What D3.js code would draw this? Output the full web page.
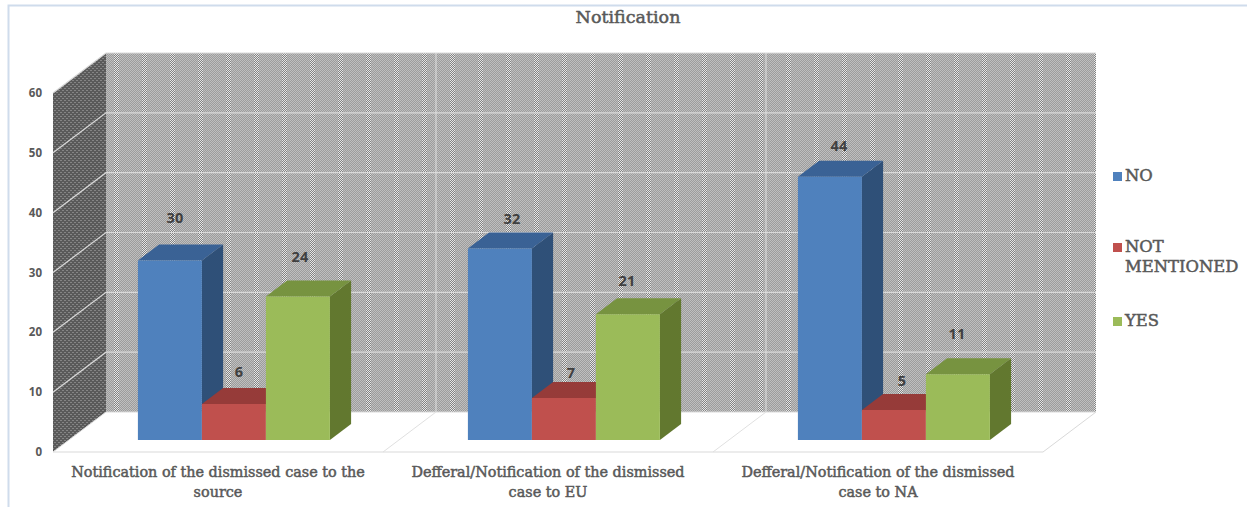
<!DOCTYPE html>
<html>
<head>
<meta charset="utf-8">
<script src="https://cdn.jsdelivr.net/npm/d3@7"></script>
<style>
  html, body { margin: 0; padding: 0; background: #fff; }
  svg { display: block; }
</style>
</head>
<body>
<svg id="chart" width="1247" height="507"></svg>
<script>
// Chart data
const categories = [
  "Notification of the dismissed case to the source",
  "Defferal/Notification of the dismissed case to EU",
  "Defferal/Notification of the dismissed case to NA"
];
const categoryLines = [
  ["Notification of the dismissed case to the", "source"],
  ["Defferal/Notification of the dismissed", "case to EU"],
  ["Defferal/Notification of the dismissed", "case to NA"]
];
const seriesNames = ["NO", "NOT MENTIONED", "YES"];
const noValues = [30, 32, 44];
const notMentionedValues = [6, 7, 5];
const yesValues = [24, 21, 11];
const yTicks = [0, 10, 20, 30, 40, 50, 60];

// Hand placement of the value labels relative to each bar's front top edge
const labelNudgeX = [[5, 5, 2], [12, 7, -1], [9, 8, -1]];
const labelNudgeY = [[-38, -27, -34], [-25, -20, -28], [-26, -24, -35]];

const seriesValues = [noValues, notMentionedValues, yesValues];
const frontColors = ["#4f81bd", "#c0504d", "#9bbb59"];
const sideColors  = ["#2f5078", "#7a3230", "#62782f"];
const topColors   = ["#3a6295", "#963b39", "#779340"];

const svg = d3.select("#chart");
const serif = "'DejaVu Serif', serif";
const sans = "'Open Sans', sans-serif";

// Oblique projection: depth 0 is the front of the floor, depth 1 the back wall
const depthX = 53, depthY = -40;
const y = d3.scaleLinear().domain([0, 60]).range([452, 93]);
const x0 = d3.scaleBand().domain(categories).range([53, 1043]);
const x1 = d3.scaleBand().domain(seriesNames).range([69, 261]);
const project = (xf, v, z) => [xf + depthX * z, y(v) + depthY * z];
const poly = pts => pts.map(p => p.join(",")).join(" ");

// Halftone fills for the two walls
const defs = svg.append("defs");
const wall = defs.append("pattern").attr("id", "wallFill")
  .attr("patternUnits", "userSpaceOnUse").attr("width", 28).attr("height", 2)
  .attr("x", 2);
wall.append("rect").attr("width", 28).attr("height", 2).attr("fill", "#aeaeae");
d3.range(0, 28).forEach(i => {
  const band = i < 5;
  [0, 1].forEach(row => {
    wall.append("rect").attr("x", i).attr("y", row).attr("width", 1).attr("height", 1)
      .attr("fill", (i + row) % 2 === 0
        ? (band ? "#e6e6e6" : "#bfbfbf")
        : (band ? "#828282" : "#9c9c9c"));
  });
});
const side = defs.append("pattern").attr("id", "sideFill")
  .attr("patternUnits", "userSpaceOnUse").attr("width", 4).attr("height", 4);
side.append("rect").attr("width", 4).attr("height", 4).attr("fill", "#5a5a5a");
side.append("rect").attr("x", 0).attr("y", 0).attr("width", 2).attr("height", 1).attr("fill", "#858585");
side.append("rect").attr("x", 2).attr("y", 2).attr("width", 2).attr("height", 1).attr("fill", "#858585");

// Outer frame, open to the right and below
svg.append("path")
  .attr("d", "M8.5,507V5.5H1247")
  .attr("fill", "none").attr("stroke", "#cfdcec").attr("stroke-width", 2);

// Shared look of the serif captions
const serifText = sel => sel
  .attr("font-family", serif).attr("font-weight", 400)
  .attr("fill", "#595959").attr("stroke", "#595959").attr("stroke-width", 0.5);

// Title
svg.append("text").attr("x", 628).attr("y", 23).attr("text-anchor", "middle")
  .attr("font-size", 17.5).call(serifText).text("Notification");

// Walls and floor
const [xL, xR] = x0.range();
svg.append("polygon").attr("fill", "url(#wallFill)")
  .attr("points", poly([project(xL, 60, 1), project(xR, 60, 1), project(xR, 0, 1), project(xL, 0, 1)]));
svg.append("polygon").attr("fill", "url(#sideFill)")
  .attr("points", poly([project(xL, 60, 0), project(xL, 60, 1), project(xL, 0, 1), project(xL, 0, 0)]));
svg.append("polygon").attr("fill", "#fff").attr("stroke", "#d9d9d9")
  .attr("points", poly([project(xL, 0, 0), project(xL, 0, 1), project(xR, 0, 1), project(xR, 0, 0)]));

// Gridlines across both walls
yTicks.filter(t => t > 0).forEach(t => {
  svg.append("polyline").attr("fill", "none").attr("stroke", "#d9d9d9").attr("stroke-width", 1.2)
    .attr("points", poly([project(xL, t, 0), project(xL, t, 1), project(xR, t, 1)]));
});

// Category separators on wall and floor
categories.slice(1).forEach(c => {
  const xc = x0(c);
  svg.append("polyline").attr("fill", "none").attr("stroke", "#e0e0e0").attr("stroke-width", 1)
    .attr("points", poly([project(xc, 0, 0), project(xc, 0, 1), project(xc, 60, 1)]));
});

// Value axis labels
svg.selectAll(".ytick").data(yTicks).join("text").attr("class", "ytick")
  .attr("x", 42).attr("y", d => y(d) + 4).attr("text-anchor", "end")
  .attr("font-family", sans).attr("font-size", 11.5).attr("font-weight", 700)
  .attr("fill", "#595959").text(d => d);

// Bars
const barDepth = [0.3, 0.7];
categories.forEach((c, ci) => {
  seriesNames.forEach((s, si) => {
    const v = seriesValues[si][ci];
    const a = x0(c) + x1(s), b = a + x1.bandwidth();
    const g = svg.append("g").attr("class", "bar");
    g.append("polygon").attr("fill", sideColors[si]).attr("points", poly([
      project(b, 0, barDepth[0]), project(b, 0, barDepth[1]),
      project(b, v, barDepth[1]), project(b, v, barDepth[0])]));
    g.append("polygon").attr("fill", topColors[si]).attr("points", poly([
      project(a, v, barDepth[0]), project(a, v, barDepth[1]),
      project(b, v, barDepth[1]), project(b, v, barDepth[0])]));
    g.append("polygon").attr("fill", frontColors[si]).attr("points", poly([
      project(a, 0, barDepth[0]), project(b, 0, barDepth[0]),
      project(b, v, barDepth[0]), project(a, v, barDepth[0])]));
  });
});

// Value labels above each bar
categories.forEach((c, ci) => {
  seriesNames.forEach((s, si) => {
    const v = seriesValues[si][ci];
    const mid = x0(c) + x1(s) + x1.bandwidth() / 2;
    const [px, py] = project(mid, v, barDepth[0]);
    svg.append("text")
      .attr("x", px + labelNudgeX[ci][si]).attr("y", py + labelNudgeY[ci][si])
      .attr("text-anchor", "middle").attr("font-family", sans)
      .attr("font-size", 14.5).attr("font-weight", 700).attr("fill", "#404040").text(v);
  });
});

// Category labels
categories.forEach((c, ci) => {
  const cx = x0(c) + x0.bandwidth() / 2;
  categoryLines[ci].forEach((line, li) => {
    svg.append("text").attr("x", cx).attr("y", 477 + li * 20)
      .attr("text-anchor", "middle").attr("font-size", 14.4).call(serifText).text(line);
  });
});

// Legend
const legendRows = [
  { lines: ["NO"], y: 176 },
  { lines: ["NOT", "MENTIONED"], y: 247 },
  { lines: ["YES"], y: 321 }
];
legendRows.forEach((row, i) => {
  svg.append("rect").attr("x", 1113).attr("y", row.y - 4).attr("width", 9).attr("height", 9)
    .attr("fill", frontColors[i]);
  row.lines.forEach((line, li) => {
    svg.append("text").attr("x", 1125).attr("y", row.y + 5 + li * 20)
      .attr("font-size", 16.4).call(serifText).text(line);
  });
});
</script>
</body>
</html>
